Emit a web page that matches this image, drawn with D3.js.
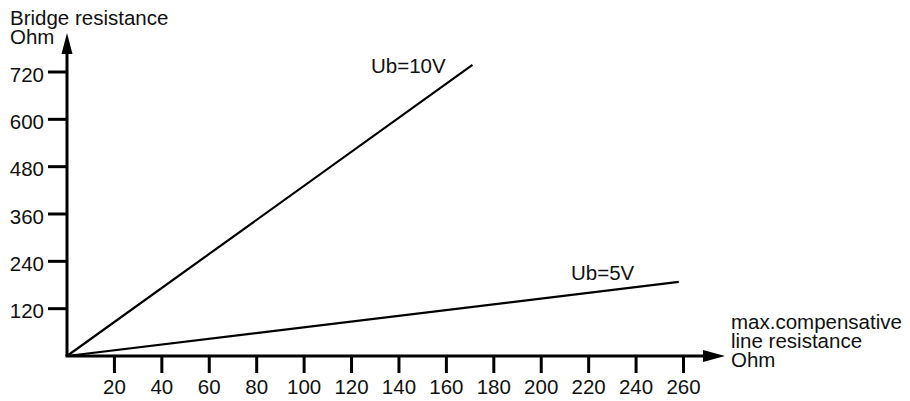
<!DOCTYPE html>
<html>
<head>
<meta charset="utf-8">
<script src="https://cdn.jsdelivr.net/npm/d3@7"></script>
<style>
  html, body { margin: 0; padding: 0; background: #fff; }
  svg text { font-family: "Liberation Sans", Arial, sans-serif; fill: #111; }
</style>
</head>
<body>
<div id="chart"></div>
<script>
// Tick values
const xTicks = [20, 40, 60, 80, 100, 120, 140, 160, 180, 200, 220, 240, 260];
const yTicks = [120, 240, 360, 480, 600, 720];

// Two straight lines from the origin
const seriesNames = ['Ub=10V', 'Ub=5V'];
const line10V = [[0, 0], [171, 738]];
const line5V = [[0, 0], [258, 188]];

const width = 910, height = 401;
const origin = { x: 67, y: 356 };
const fontSize = '20.5px';

const svg = d3.select('#chart').append('svg')
    .attr('width', width)
    .attr('height', height);

const x = d3.scaleLinear().domain([0, 260]).range([origin.x, 683.5]);
const y = d3.scaleLinear().domain([0, 720]).range([origin.y, 72]);

// Axes lines
svg.append('line')
    .attr('x1', origin.x).attr('y1', origin.y)
    .attr('x2', origin.x).attr('y2', 50)
    .attr('stroke', '#000').attr('stroke-width', 3);
svg.append('line')
    .attr('x1', origin.x - 1.5).attr('y1', origin.y)
    .attr('x2', 706).attr('y2', origin.y)
    .attr('stroke', '#000').attr('stroke-width', 3);

// Arrow heads
svg.append('path')
    .attr('d', `M${origin.x},33 L${origin.x - 5.5},54 L${origin.x + 5.5},54 Z`)
    .attr('fill', '#000');
svg.append('path')
    .attr('d', `M725,${origin.y} L703,${origin.y - 6} L703,${origin.y + 6} Z`)
    .attr('fill', '#000');

// Y ticks
const yt = svg.append('g').attr('class', 'y-ticks');
yTicks.forEach(v => {
    yt.append('line')
        .attr('x1', 48).attr('x2', origin.x)
        .attr('y1', y(v)).attr('y2', y(v))
        .attr('stroke', '#000').attr('stroke-width', 3);
    yt.append('text')
        .attr('x', 44)
        .attr('y', y(v) + 9.5)
        .attr('text-anchor', 'end')
        .attr('font-size', fontSize)
        .text(v);
});

// X ticks
const xt = svg.append('g').attr('class', 'x-ticks');
xTicks.forEach(v => {
    xt.append('line')
        .attr('x1', x(v)).attr('x2', x(v))
        .attr('y1', origin.y).attr('y2', 373)
        .attr('stroke', '#000').attr('stroke-width', 3);
    xt.append('text')
        .attr('x', x(v))
        .attr('y', 394)
        .attr('text-anchor', 'middle')
        .attr('font-size', fontSize)
        .text(v);
});

// Data lines
const lineGen = d3.line().x(d => x(d[0])).y(d => y(d[1]));
[line10V, line5V].forEach(pts => {
    svg.append('path')
        .attr('d', lineGen(pts))
        .attr('fill', 'none')
        .attr('stroke', '#000')
        .attr('stroke-width', 2.2);
});

// Series labels
svg.append('text').attr('x', 371).attr('y', 72.5).attr('font-size', fontSize).text(seriesNames[0]);
svg.append('text').attr('x', 571).attr('y', 279.5).attr('font-size', fontSize).text(seriesNames[1]);

// Axis titles
svg.append('text').attr('x', 10).attr('y', 25).attr('font-size', fontSize).text('Bridge resistance');
svg.append('text').attr('x', 10).attr('y', 43.5).attr('font-size', fontSize).text('Ohm');

const xTitle = ['max.compensative', 'line resistance', 'Ohm'];
xTitle.forEach((t, i) => {
    svg.append('text')
        .attr('x', 731)
        .attr('y', 329 + i * 19)
        .attr('font-size', fontSize)
        .text(t);
});
</script>
</body>
</html>
